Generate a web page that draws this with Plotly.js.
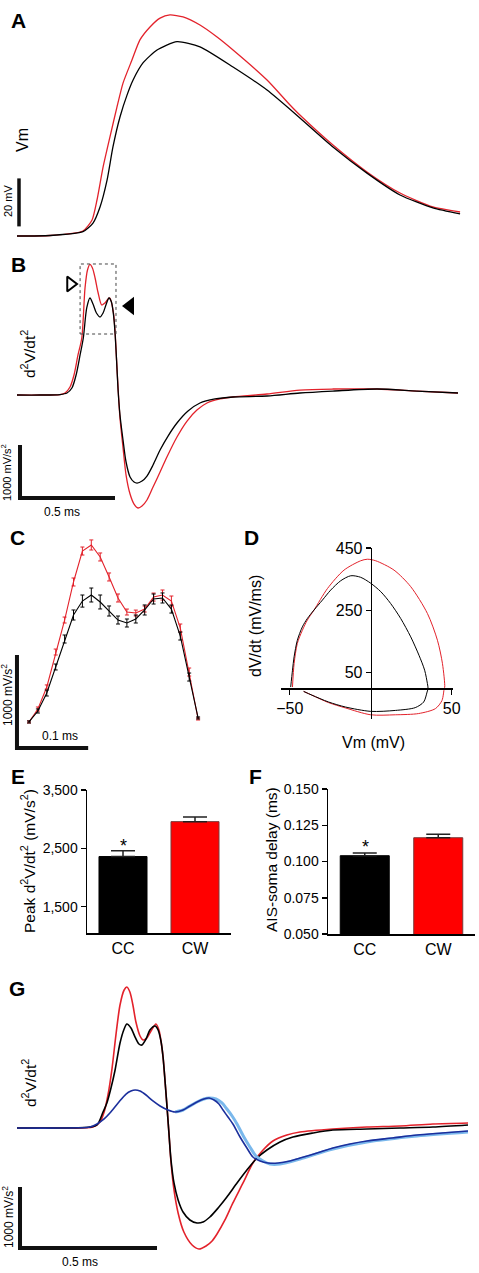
<!DOCTYPE html>
<html><head><meta charset="utf-8">
<script src="https://cdn.plot.ly/plotly-3.0.1.min.js"></script>
<style>html,body{margin:0;padding:0;background:#fff}#chart{width:479px;height:1273px}</style>
</head><body><div id="chart"></div>
<script>
// ---------- DATA ----------
// Panel A: membrane potential (ms, mV)
const tA_CC = [0,0.174,0.347,0.400,0.437,0.474,0.505,0.542,0.579,0.611,0.663,0.737,0.842,0.963,1.137,1.316,1.489,1.663,1.842,2.016,2.189,2.332];
const vmA_CC = [-70,-69.8,-68.2,-64.6,-57.9,-46.7,-32.9,-20.4,-11.3,-5,2.1,7.5,11,8.8,0.4,-9.2,-20.8,-32.9,-43.8,-52.9,-58.3,-60.8];
const tA_CW = [0,0.174,0.347,0.395,0.421,0.453,0.489,0.526,0.558,0.605,0.647,0.700,0.753,0.805,0.874,0.963,1.053,1.137,1.316,1.437,1.489,1.663,1.842,2.016,2.189,2.332];
const vmA_CW = [-70,-69.8,-67.9,-63.3,-55,-41.3,-28.8,-16.3,-6.3,3.3,11.7,17.1,20.8,22.1,21.3,17.9,12.9,7.5,-5,-15.4,-19.6,-32.1,-43.3,-52.1,-57.9,-60];

// Panel B: d2V/dt2 (ms, mV/s^2)
const tB_CC = [0,0.121,0.226,0.263,0.289,0.311,0.332,0.349,0.367,0.384,0.400,0.418,0.437,0.453,0.468,0.484,0.497,0.508,0.516,0.524,0.532,0.542,0.558,0.574,0.595,0.616,0.632,0.658,0.684,0.716,0.753,0.795,0.842,0.900,0.963,1.042,1.137,1.316,1.489,1.663,1.895,2.105,2.321];
const d2B_CC = [0,0,9,38,132,377,755,1076,1642,1830,1717,1547,1472,1547,1698,1830,1755,1510,1170,660,94,-377,-849,-1264,-1547,-1642,-1661,-1623,-1529,-1321,-1038,-774,-528,-302,-151,-75,-38,-19,38,75,113,75,38];
const tB_CW = [0,0.121,0.226,0.253,0.279,0.300,0.321,0.341,0.358,0.371,0.384,0.397,0.411,0.426,0.446,0.463,0.479,0.489,0.507,0.516,0.524,0.532,0.542,0.558,0.574,0.595,0.616,0.637,0.658,0.684,0.716,0.753,0.789,0.842,0.895,0.947,1.000,1.068,1.137,1.316,1.489,1.663,1.895,2.105,2.321];
const d2B_CW = [0,0,9,38,151,377,755,1076,2019,2359,2466,2396,2208,1944,1698,1736,1811,1830,1566,1208,660,132,-434,-992,-1510,-1868,-2057,-2132,-2095,-1981,-1736,-1453,-1170,-792,-491,-283,-151,-75,-38,19,94,113,113,75,38];

// Panel C: mean +/- SEM of d2V/dt2 around the peaks (ms, mV/s^2)
const tC = [0,0.0125,0.025,0.0375,0.05,0.0625,0.075,0.0875,0.1,0.1125,0.125,0.1375,0.15,0.1625,0.175,0.1875,0.2,0.2125,0.225,0.2375];
const d2C_CC = [965,1083,1276,1556,1857,2115,2265,2330,2255,2158,2061,2029,2072,2169,2287,2298,2179,1889,1448,1008];
const semC_CC = [11,22,32,32,43,54,65,75,75,54,43,43,43,54,54,54,43,43,43,11];
const d2C_CW = [965,1104,1341,1717,2061,2470,2803,2868,2739,2524,2298,2147,2136,2179,2308,2330,2265,1975,1502,997];
const semC_CW = [11,22,22,32,32,43,43,54,43,43,43,32,32,32,43,54,54,43,43,11];

// Panel D: phase plot (mV, mV/ms)
const vmD_CC = [-49.4,-48.3,-47.3,-45.3,-42.2,-39.1,-35,-29.8,-24.7,-18.5,-12.3,-6.2,0,6.2,12.3,18.5,24.7,29.8,33.3,35,35.4,34.8,32.7,27.5,15.2,0,-15.6,-26,-36.3,-41.4];
const dvD_CC = [4,58,101,154,197,224,251,283,315,345,361,356,337,310,272,224,165,106,58,15,0,-12,-44,-62,-71,-74,-60,-44,-22,-10];
const vmD_CW = [-48.3,-47.3,-45.3,-42.2,-39.1,-35,-26.7,-16.5,-6.2,-2.1,3.1,14.4,24.7,35,41.2,44.3,45.7,45.4,44,40,29.6,15.2,0,-15.6,-26,-36.3,-41.4];
const dvD_CW = [4,79,144,186,219,251,320,379,409,414,409,379,326,240,154,79,4,0,-39,-65,-81,-85,-85,-63,-46,-22,-10];
const dTicksX = [-50,50];
const dTicksY = [50,250,450];

// Panels E, F: group means
const groups = ['CC','CW'];
const peakE = [2360,2958];
const peakE_sem = [100,80];
const eTicks = [1500,2500,3500];
const eTickText = ['1,500','2,500','3,500'];
const delayF = [0.104,0.1164];
const delayF_sem = [0.0019,0.0024];
const fTicks = [0.05,0.075,0.1,0.125,0.15];
const fTickText = ['0.050','0.075','0.100','0.125','0.150'];

// Panel G: d2V/dt2 incl. blue condition (ms, mV/s^2)
const tG_CC = [0,0.157,0.266,0.292,0.314,0.328,0.343,0.358,0.376,0.391,0.401,0.416,0.431,0.445,0.456,0.471,0.485,0.504,0.515,0.526,0.533,0.540,0.547,0.555,0.562,0.573,0.588,0.606,0.631,0.657,0.679,0.704,0.734,0.766,0.803,0.839,0.876,0.912,0.960,1.007,1.080,1.153,1.277,1.398,1.518,1.646];
const d2G_CC = [0,0,16,49,262,410,656,951,1393,1623,1705,1639,1491,1377,1360,1459,1606,1672,1606,1410,1164,787,377,-115,-524,-901,-1180,-1377,-1508,-1557,-1541,-1459,-1311,-1131,-901,-688,-492,-361,-229,-148,-82,-33,-16,0,16,49];
const tG_CW = [0,0.157,0.277,0.303,0.318,0.332,0.347,0.361,0.376,0.391,0.401,0.412,0.423,0.434,0.449,0.460,0.474,0.489,0.507,0.518,0.526,0.533,0.540,0.547,0.555,0.562,0.573,0.588,0.609,0.639,0.664,0.690,0.712,0.730,0.759,0.788,0.825,0.861,0.898,0.934,0.985,1.033,1.153,1.277,1.398,1.518,1.646];
const d2G_CW = [0,0,16,98,262,541,983,1524,2016,2262,2311,2229,2016,1737,1508,1442,1475,1590,1705,1606,1410,1164,787,377,-115,-557,-1016,-1393,-1705,-1918,-1983,-1934,-1852,-1737,-1508,-1229,-901,-574,-361,-213,-115,-66,-16,16,33,66,82];
const tG_blue = [0,0.157,0.266,0.292,0.318,0.339,0.369,0.398,0.416,0.431,0.449,0.471,0.496,0.522,0.551,0.577,0.606,0.631,0.657,0.682,0.701,0.719,0.737,0.752,0.770,0.788,0.814,0.839,0.861,0.887,0.916,0.953,0.996,1.033,1.095,1.153,1.215,1.277,1.369,1.460,1.551,1.646];
const d2G_blue = [0,0,16,66,148,246,410,557,606,623,606,541,443,361,295,262,295,361,426,475,492,459,393,295,180,66,-148,-328,-475,-541,-574,-574,-541,-492,-410,-328,-262,-213,-164,-115,-82,-49];
const tG_lightblue = [0.577,0.606,0.631,0.657,0.682,0.701,0.726,0.748,0.766,0.785,0.803,0.828,0.850,0.872,0.898,0.923,0.960,1.033,1.153,1.277,1.460,1.646];
const d2G_lightblue = [262,295,361,426,475,492,475,410,311,197,66,-148,-311,-459,-541,-590,-590,-508,-344,-229,-131,-66];

// scale bars
const scaleA_mV = 20;
const scaleB_ms = 0.5, scaleB_d2 = 1000;
const scaleC_ms = 0.1, scaleC_d2 = 1000;
const scaleG_ms = 0.5, scaleG_d2 = 1000;

// ---------- LAYOUT ----------
const W = 479, H = 1273;
const FONT = 'Liberation Sans, Arial, Helvetica, sans-serif';
const RED = '#e3222b';
const px = x => x / W;
const py = y => 1 - y / H;
const dx = (a, b) => [px(a), px(b)];
const dy = (top, bot) => [py(bot), py(top)];

const hidden = (extra) => Object.assign({visible:false, fixedrange:true, showgrid:false, zeroline:false}, extra);
const shownAxis = (extra) => Object.assign({
  visible:true, fixedrange:true, showgrid:false, zeroline:false, showline:true,
  linecolor:'#000', linewidth:1.5, ticks:'outside', ticklen:5, tickwidth:1.5, tickcolor:'#000',
  tickfont:{family:FONT, size:14, color:'#000'}
}, extra);

const traces = [];
const ln = (x, y, xa, ya, color, width, shape, smooth) => ({
  type:'scatter', mode:'lines', x, y, xaxis:xa, yaxis:ya, hoverinfo:'skip',
  line:{color, width, shape: shape || 'spline', smoothing: smooth || 0.8}
});
// A
traces.push(ln(tA_CW, vmA_CW, 'x', 'y', RED, 1.3, 'spline', 0.6));
traces.push(ln(tA_CC, vmA_CC, 'x', 'y', '#000', 1.3, 'spline', 0.6));
// B
traces.push(ln(tB_CW, d2B_CW, 'x2', 'y2', RED, 1.3));
traces.push(ln(tB_CC, d2B_CC, 'x2', 'y2', '#000', 1.3));
// B arrowheads
traces.push({type:'scatter', mode:'markers', x:[0.2816], y:[2095], xaxis:'x2', yaxis:'y2', hoverinfo:'skip',
  marker:{symbol:'triangle-right-open', size:13, color:'#000', line:{color:'#000', width:2}}});
traces.push({type:'scatter', mode:'markers', x:[0.5947], y:[1679], xaxis:'x2', yaxis:'y2', hoverinfo:'skip',
  marker:{symbol:'triangle-left', size:16, color:'#000'}});
// C
traces.push(Object.assign(ln(tC, d2C_CW, 'x3', 'y3', RED, 1.1, 'linear'),
  {error_y:{type:'data', array:semC_CW, color:RED, thickness:1, width:2}}));
traces.push(Object.assign(ln(tC, d2C_CC, 'x3', 'y3', '#000', 1.1, 'linear'),
  {error_y:{type:'data', array:semC_CC, color:'#000', thickness:1, width:2}}));
// D
traces.push(ln(vmD_CW, dvD_CW, 'x4', 'y4', RED, 1));
traces.push(ln(vmD_CC, dvD_CC, 'x4', 'y4', '#000', 1));
// E
traces.push({type:'bar', x:groups, y:peakE, xaxis:'x5', yaxis:'y5', width:0.667, hoverinfo:'skip',
  marker:{color:['#000000','#ff0000'], line:{color:['#000000','#7a3a3a'], width:1}},
  error_y:{type:'data', symmetric:false, array:peakE_sem, arrayminus:[0,0], color:'#222', thickness:1.5, width:12}});
// F
traces.push({type:'bar', x:groups, y:delayF, xaxis:'x6', yaxis:'y6', width:0.667, hoverinfo:'skip',
  marker:{color:['#000000','#ff0000'], line:{color:['#000000','#7a3a3a'], width:1}},
  error_y:{type:'data', symmetric:false, array:delayF_sem, arrayminus:[0,0], color:'#222', thickness:1.5, width:12}});
// G
traces.push(ln(tG_CW, d2G_CW, 'x7', 'y7', RED, 1.6));
traces.push(ln(tG_CC, d2G_CC, 'x7', 'y7', '#000', 1.6));
traces.push(ln(tG_lightblue, d2G_lightblue, 'x7', 'y7', '#7ab8ec', 3));
traces.push(ln(tG_blue, d2G_blue, 'x7', 'y7', '#1b2f9c', 1.6));

const layout = {
  width:W, height:H, margin:{l:0, r:0, t:0, b:0, pad:0},
  paper_bgcolor:'#fff', plot_bgcolor:'rgba(0,0,0,0)', showlegend:false, hovermode:false,
  font:{family:FONT, color:'#000', size:12},
  // A
  xaxis: hidden({domain:[0,1], range:[-0.0895, 2.4316], anchor:'y'}),
  yaxis: hidden({domain:dy(0,248), range:[-75, 28.33], anchor:'x'}),
  // B
  xaxis2: hidden({domain:[0,1], range:[-0.0895, 2.4316], anchor:'y2'}),
  yaxis2: hidden({domain:dy(250,515), range:[-2264, 2736], anchor:'x2'}),
  // C
  xaxis3: hidden({domain:dx(0,240), range:[-0.04073, 0.29635], anchor:'y3'}),
  yaxis3: hidden({domain:dy(530,760), range:[556, 3029], anchor:'x3'}),
  // D
  xaxis4: shownAxis({domain:dx(281.3,453), range:[-55.2, 50.8], anchor:'free', position:py(688.3),
    tickvals:dTicksX, tickfont:{family:FONT, size:16, color:'#000'}}),
  yaxis4: shownAxis({domain:dy(548,719), range:[-98.5, 450], anchor:'free', position:px(370.7),
    tickvals:dTicksY, tickfont:{family:FONT, size:16, color:'#000'}}),
  // E
  xaxis5: shownAxis({domain:dx(87,231), type:'category', range:[-0.5,1.5], anchor:'y5', ticks:'',
    tickfont:{family:FONT, size:16, color:'#000'}}),
  yaxis5: shownAxis({domain:dy(790,933), range:[1050, 3500], anchor:'x5', tickvals:eTicks, ticktext:eTickText}),
  // F
  xaxis6: shownAxis({domain:dx(328,475), type:'category', range:[-0.5,1.5], anchor:'y6', ticks:'',
    tickfont:{family:FONT, size:16, color:'#000'}}),
  yaxis6: shownAxis({domain:dy(789,934), range:[0.05, 0.15], anchor:'x6', tickvals:fTicks, ticktext:fTickText}),
  // G
  xaxis7: hidden({domain:[0,1], range:[-0.06204, 1.68613], anchor:'y7'}),
  yaxis7: hidden({domain:dy(975,1273), range:[-2377, 2508], anchor:'x7'}),
};

// scale bars & box (data coordinates of each panel)
const bar = (xr, yr, x0, y0, xlen, ylen) => {
  let path = 'M ' + x0 + ',' + (y0 + ylen) + ' L ' + x0 + ',' + y0;
  if (xlen) path += ' L ' + (x0 + xlen) + ',' + y0;
  return {type:'path', xref:xr, yref:yr, path, line:{color:'#111', width:4}};
};
layout.shapes = [
  {type:'line', xref:'x', yref:'y', x0:0.0105, x1:0.0105, y0:-66, y1:-66 + scaleA_mV, line:{color:'#111', width:3.5}},
  bar('x2','y2', 0.0158, -1944, scaleB_ms, scaleB_d2),
  bar('x3','y3', -0.0169, 685, scaleC_ms, scaleC_d2),
  bar('x7','y7', 0.011, -1967, scaleG_ms, scaleG_d2),
  {type:'rect', xref:'x2', yref:'y2', x0:0.332, x1:0.521, y0:1151, y1:2472, line:{color:'#444', width:1, dash:'dot'}},
];

// text
const A = (text, x, y, size, extra) => Object.assign({
  text, xref:'paper', yref:'paper', x:px(x), y:py(y), showarrow:false,
  xanchor:'center', yanchor:'middle', font:{family:FONT, size, color:'#000'}
}, extra || {});
const rot = {textangle:-90};
layout.annotations = [
  A('<b>A</b>', 18, 21, 21), A('<b>B</b>', 18, 264, 21), A('<b>C</b>', 17, 537, 21),
  A('<b>D</b>', 251, 537, 21), A('<b>E</b>', 18, 776, 21), A('<b>F</b>', 256, 776, 21),
  A('<b>G</b>', 17, 988, 21),
  A('Vm', 22, 140, 16, rot),
  A('20 mV', 8, 201, 11, rot),
  A('d<sup>2</sup>V/dt<sup>2</sup>', 28, 354, 15.5, rot),
  A('1000 mV/s<sup>2</sup>', 6, 473, 11, rot),
  A('0.5 ms', 62, 512, 12),
  A('1000 mV/s<sup>2</sup>', 7, 695, 12, rot),
  A('0.1 ms', 60, 736, 12),
  A('dV/dt (mV/ms)', 255, 626, 16, rot),
  A('Vm (mV)', 373, 742, 16),
  A('Peak d<sup>2</sup>V/dt<sup>2</sup> (mV/s<sup>2</sup>)', 28, 861, 15.5, rot),
  A('AIS-soma delay (ms)', 271, 860, 15.5, rot),
  A('*', 123, 846, 18),
  A('*', 365, 847, 18),
  A('d<sup>2</sup>V/dt<sup>2</sup>', 29, 1083, 15.5, rot),
  A('1000 mV/s<sup>2</sup>', 8, 1217, 12, rot),
  A('0.5 ms', 80, 1262, 12),
];

Plotly.newPlot('chart', traces, layout, {staticPlot:true, displayModeBar:false});
</script></body></html>
